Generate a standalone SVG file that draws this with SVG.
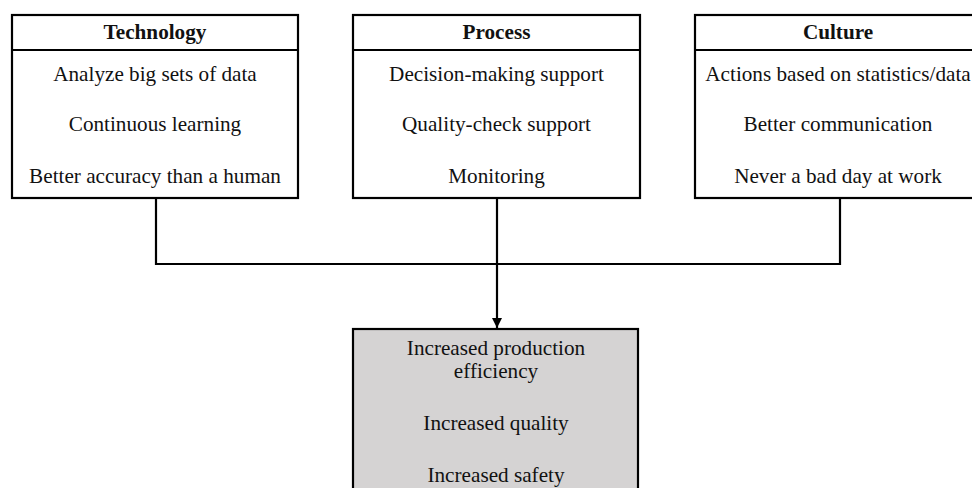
<svg xmlns="http://www.w3.org/2000/svg" width="972" height="488" viewBox="0 0 972 488">
<defs>
<style>
.box{fill:#ffffff;stroke:#000;stroke-width:2.2}
.res{fill:#d5d3d3;stroke:#000;stroke-width:2.2}
.t{font-family:"Liberation Serif","Times New Roman",serif;font-size:21.2px;fill:#111;text-anchor:middle}
.h{font-weight:bold}
.c{fill:none;stroke:#000;stroke-width:2.2}
</style>
<marker id="arr" viewBox="0 0 10 10" refX="10" refY="5" markerWidth="10" markerHeight="10" markerUnits="userSpaceOnUse" orient="auto">
<path d="M0,0 L10,5 L0,10 z" fill="#000"/>
</marker>
</defs>
<rect width="972" height="488" fill="#fff"/>
<g id="connectors">
<path class="c" d="M156,198 V264 H840 V198"/>
<path class="c" d="M497,198 V328" marker-end="url(#arr)"/>
</g>
<g id="technology">
<rect class="box" x="12" y="15" width="286" height="183"/>
<line class="c" x1="12" y1="50" x2="298" y2="50"/>
<text class="t h" x="155" y="39">Technology</text>
<text class="t" x="155" y="81">Analyze big sets of data</text>
<text class="t" x="155" y="131">Continuous learning</text>
<text class="t" x="155" y="183">Better accuracy than a human</text>
</g>
<g id="process">
<rect class="box" x="353" y="15" width="287" height="183"/>
<line class="c" x1="353" y1="50" x2="640" y2="50"/>
<text class="t h" x="496.5" y="39">Process</text>
<text class="t" x="496.5" y="81">Decision-making support</text>
<text class="t" x="496.5" y="131">Quality-check support</text>
<text class="t" x="496.5" y="183">Monitoring</text>
</g>
<g id="culture">
<rect class="box" x="695" y="15" width="287" height="183"/>
<line class="c" x1="695" y1="50" x2="982" y2="50"/>
<text class="t h" x="838" y="39">Culture</text>
<text class="t" x="838" y="81">Actions based on statistics/data</text>
<text class="t" x="838" y="131">Better communication</text>
<text class="t" x="838" y="183">Never a bad day at work</text>
</g>
<g id="outcome">
<rect class="res" x="353" y="329" width="285" height="170"/>
<text class="t" x="496" y="355">Increased production</text>
<text class="t" x="496" y="378">efficiency</text>
<text class="t" x="496" y="430">Increased quality</text>
<text class="t" x="496" y="482">Increased safety</text>
</g>
</svg>
